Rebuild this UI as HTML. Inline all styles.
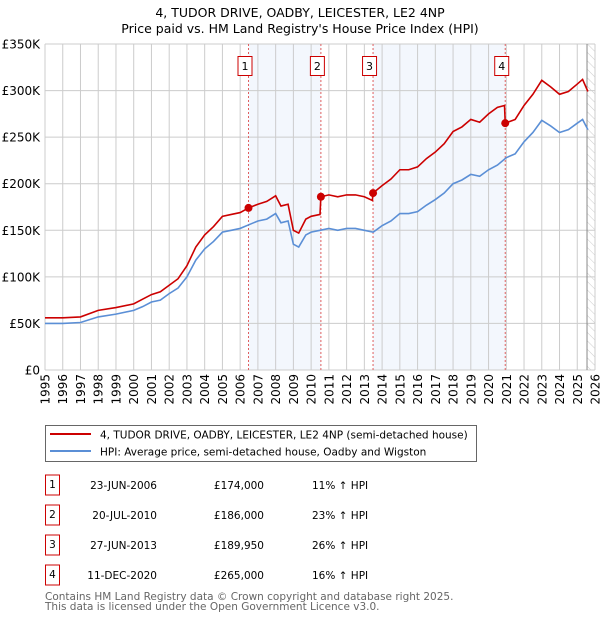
<!DOCTYPE html>
<html><head><meta charset="utf-8"><style>
body{margin:0;background:#fff;}
svg{display:block;font-family:"DejaVu Sans","Liberation Sans",sans-serif;}
</style></head><body>
<svg id="chart" width="600" height="620" viewBox="0 0 600 620">
<text x="300" y="17" text-anchor="middle" font-size="12.5">4, TUDOR DRIVE, OADBY, LEICESTER, LE2 4NP</text>
<text x="300" y="33" text-anchor="middle" font-size="12.5">Price paid vs. HM Land Registry's House Price Index (HPI)</text>
<g id="plot"></g>
<rect x="45.5" y="425.5" width="431" height="36" fill="#fff" stroke="#666"/>
<line x1="50" y1="434" x2="91" y2="434" stroke="#cc0000" stroke-width="2"/>
<text x="100" y="438.5" font-size="10.5">4, TUDOR DRIVE, OADBY, LEICESTER, LE2 4NP (semi-detached house)</text>
<line x1="50" y1="451" x2="91" y2="451" stroke="#5b8fd6" stroke-width="2"/>
<text x="100" y="455.5" font-size="10.5">HPI: Average price, semi-detached house, Oadby and Wigston</text>
<g id="table" font-size="10.5"></g>
<text x="45" y="600" font-size="10.5" fill="#666">Contains HM Land Registry data © Crown copyright and database right 2025.</text>
<text x="45" y="610" font-size="10.5" fill="#666">This data is licensed under the Open Government Licence v3.0.</text>
</svg>
<script>
const hpiYears=[1995,1996,1997,1998,1999,2000,2000.5,2001,2001.5,2002,2002.5,2003,2003.5,2004,2004.5,2005,2005.5,2006,2006.5,2007,2007.5,2008,2008.3,2008.7,2009,2009.3,2009.7,2010,2010.5,2011,2011.5,2012,2012.5,2013,2013.5,2014,2014.5,2015,2015.5,2016,2016.5,2017,2017.5,2018,2018.5,2019,2019.5,2020,2020.5,2021,2021.5,2022,2022.5,2023,2023.5,2024,2024.5,2025,2025.3,2025.6];
const hpiValues=[50,50,51,57,60,64,68,73,75,82,88,100,118,130,138,148,150,152,156,160,162,168,158,160,135,132,145,148,150,152,150,152,152,150,148,155,160,168,168,170,177,183,190,200,204,210,208,215,220,228,232,245,255,268,262,255,258,265,269,258];
const priceYears=[1995,1996,1997,1998,1999,2000,2000.5,2001,2001.5,2002,2002.5,2003,2003.5,2004,2004.5,2005,2005.5,2006,2006.47,2007,2007.5,2008,2008.3,2008.7,2009,2009.3,2009.7,2010,2010.5,2010.55,2011,2011.5,2012,2012.5,2013,2013.45,2013.49,2014,2014.5,2015,2015.5,2016,2016.5,2017,2017.5,2018,2018.5,2019,2019.5,2020,2020.5,2020.9,2020.94,2021.5,2022,2022.5,2023,2023.5,2024,2024.5,2025,2025.3,2025.6];
const priceValues=[56,56,57,64,67,71,76,81,84,91,98,112,132,145,154,165,167,169,174,178,181,187,176,178,150,147,162,165,167,186,188,186,188,188,186,182,190,198,205,215,215,218,227,234,243,256,261,269,266,275,282,284,265,269,284,296,311,304,296,299,307,312,299];
const saleLabels=["1","2","3","4"];
const saleYears=[2006.47,2010.55,2013.49,2020.94];
const salePrices=[174,186,189.95,265];
const saleDates=["23-JUN-2006","20-JUL-2010","27-JUN-2013","11-DEC-2020"];
const salePriceText=["£174,000","£186,000","£189,950","£265,000"];
const salePct=["11% ↑ HPI","23% ↑ HPI","26% ↑ HPI","16% ↑ HPI"];
const yTicks=[0,50,100,150,200,250,300,350];
const yTickLabels=["£0","£50K","£100K","£150K","£200K","£250K","£300K","£350K"];
const xTicks=[1995,1996,1997,1998,1999,2000,2001,2002,2003,2004,2005,2006,2007,2008,2009,2010,2011,2012,2013,2014,2015,2016,2017,2018,2019,2020,2021,2022,2023,2024,2025,2026];
const forecastStart=2025.55;

const NS="http://www.w3.org/2000/svg";
const L=45,R=595,T=44,B=370;
const xs=y=>L+(y-1995)/(2026-1995)*(R-L);
const ys=v=>B-v/350*(B-T);
const plot=document.getElementById('plot');
function mk(tag,attrs,parent){const e=document.createElementNS(NS,tag);for(const k in attrs)e.setAttribute(k,attrs[k]);(parent||plot).appendChild(e);return e;}

let e;
e=mk('rect',{x:xs(saleYears[0]),y:T,width:xs(saleYears[1])-xs(saleYears[0]),height:B-T,fill:'#eef3fc',opacity:0.7});


e=mk('rect',{x:xs(saleYears[2]),y:T,width:xs(saleYears[3])-xs(saleYears[2]),height:B-T,fill:'#eef3fc',opacity:0.7});



const defs=mk('defs',{});
const pat=mk('pattern',{id:'hatch',width:6,height:6,patternUnits:'userSpaceOnUse',patternTransform:'rotate(-45)'},defs);
mk('line',{x1:0,y1:0,x2:0,y2:6,stroke:'#ccc','stroke-width':1},pat);
e=mk('rect',{x:xs(forecastStart),y:T,width:R-xs(forecastStart),height:B-T,fill:'url(#hatch)'});



xTicks.forEach(t=>{
  e=mk('line',{x1:xs(t),y1:T,x2:xs(t),y2:B,stroke:'#ccc','stroke-width':1});
  
  
  e=mk('text',{x:0,y:0,'font-size':12,'text-anchor':'end',transform:`translate(${xs(t)+4.5},${B+4}) rotate(-90)`});
  e.textContent=t;
  
  
});
yTicks.forEach((t,i)=>{
  e=mk('line',{x1:L,y1:ys(t),x2:R,y2:ys(t),stroke:'#ccc','stroke-width':1});
  
  
  e=mk('text',{x:L-5,y:ys(t)+4.5,'font-size':12,'text-anchor':'end'});
  e.textContent=yTickLabels[i];
  
  
});
e=mk('line',{x1:xs(forecastStart),y1:T,x2:xs(forecastStart),y2:B,stroke:'#888','stroke-width':1});



saleYears.forEach((s,i)=>{
  e=mk('line',{x1:xs(s),y1:T,x2:xs(s),y2:B,stroke:'#e06060','stroke-width':1,'stroke-dasharray':'2,2'});
  
  
  e=mk('rect',{x:xs(s)-10.5,y:56.5,width:14,height:19,fill:'#fff',stroke:'#cc0000'});
  
  
  e=mk('text',{x:xs(s)-3.5,y:70,'font-size':11,'text-anchor':'middle'});
  e.textContent=saleLabels[i];
  
  
});

e=mk('polyline',{points:hpiYears.map((y,i)=>xs(y)+','+ys(hpiValues[i])).join(' '),fill:'none',stroke:'#5b8fd6','stroke-width':1.6});


e=mk('polyline',{points:priceYears.map((y,i)=>xs(y)+','+ys(priceValues[i])).join(' '),fill:'none',stroke:'#cc0000','stroke-width':1.6});


saleYears.forEach((s,i)=>{
  e=mk('circle',{cx:xs(s),cy:ys(salePrices[i]),r:4,fill:'#cc0000'});
  
  
});

const tbl=document.getElementById('table');
saleLabels.forEach((lab,i)=>{
  const cy=485+i*30;
  e=mk('rect',{x:45.5,y:cy-10,width:14,height:20,fill:'#fff',stroke:'#cc0000'},tbl);
  
  
  e=mk('text',{x:52.5,y:cy+3,'text-anchor':'middle'},tbl);
  e.textContent=lab;
  
  
  e=mk('text',{x:157,y:cy+4,'text-anchor':'end'},tbl);
  e.textContent=saleDates[i];
  
  
  e=mk('text',{x:264,y:cy+4,'text-anchor':'end'},tbl);
  e.textContent=salePriceText[i];
  
  
  e=mk('text',{x:312,y:cy+4},tbl);
  e.textContent=salePct[i];
  
  
});
</script>
</body></html>
